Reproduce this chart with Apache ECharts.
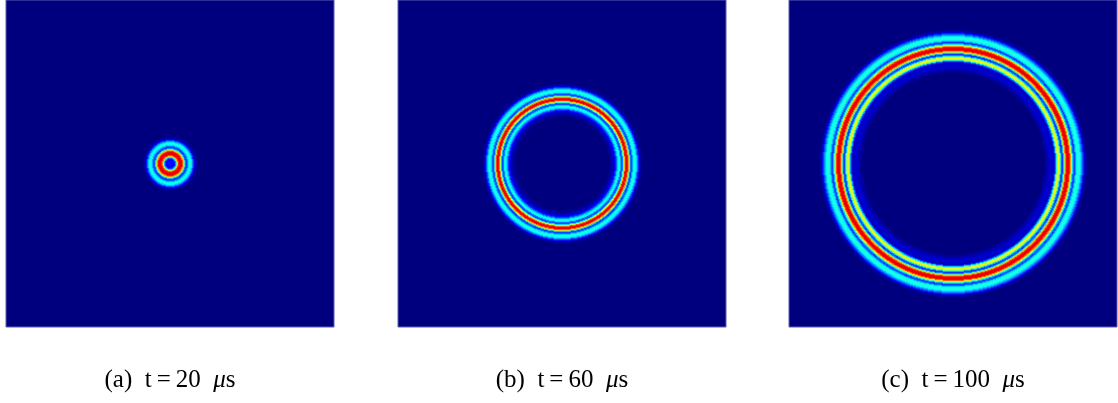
<!DOCTYPE html>
<html>
<head>
<meta charset="utf-8">
<style>
  html, body { margin: 0; padding: 0; background: #fff; }
  #chart { width: 1118px; height: 403px; }
</style>
<script src="https://cdn.jsdelivr.net/npm/echarts@6/dist/echarts.min.js"></script>
</head>
<body>
<div id="chart"></div>
<script>
// wave intensity along a radius, one value per pixel
const panelLabels = ['(a)', '(b)', '(c)']
const panelTimes = ['20', '60', '100']

const startA = 0
const profileA = [0.14, 0.14, 0.14, 0.13, 0.12, 0.2, 0.35, 0.6, 0.8, 0.88, 0.9, 0.9, 0.85, 0.7, 0.5,
  0.3, 0.17, 0.22, 0.33, 0.39, 0.4, 0.37, 0.3, 0.2, 0.12, 0.06, 0.03]

const startB = 48
const profileB = [0.02, 0.03, 0.05, 0.07, 0.1, 0.14, 0.2, 0.3, 0.37, 0.4, 0.35, 0.2, 0.2, 0.38,
  0.6, 0.82, 0.9, 0.9, 0.76, 0.55, 0.3, 0.17, 0.25, 0.36, 0.4, 0.4, 0.36, 0.28, 0.18, 0.1, 0.05, 0.02]

const startC = 92
const profileC = [0.02, 0.03, 0.05, 0.06, 0.07, 0.08, 0.08, 0.07, 0.06, 0.07, 0.18, 0.35, 0.52, 0.62,
  0.6, 0.45, 0.28, 0.15, 0.28, 0.5, 0.7, 0.85, 0.9, 0.9, 0.88, 0.76, 0.6, 0.4, 0.28, 0.16, 0.25, 0.35,
  0.4, 0.41, 0.4, 0.37, 0.3, 0.24, 0.17, 0.1, 0.05, 0.02]

const jet = ['#00007f', '#0000ff', '#007fff', '#00ffff', '#7fff7f', '#ffff00', '#ff7f00', '#ff0000', '#7f0000']

const nx = 328
const ny = 327
const cx = 164
const cy = 163
const lefts = [6, 398, 789]

function ringCells(start, profile) {
  let cells = []
  for (let i = 0; i < nx; i++) {
    for (let j = 0; j < ny; j++) {
      let r = Math.round(Math.hypot(i - cx, j - cy))
      let v = profile[r - start]
      if (v !== undefined && v > 0.015) cells.push([i, j, v])
    }
  }
  return cells
}

const xCats = Array.from({ length: nx }, (_, i) => i)
const yCats = Array.from({ length: ny }, (_, i) => i)
const profiles = [[startA, profileA], [startB, profileB], [startC, profileC]]

let chart = echarts.init(document.getElementById('chart'))
chart.setOption({
  animation: false,
  grid: lefts.map(l => ({
    left: l, top: 0, width: nx, height: ny, show: true,
    backgroundColor: '#00007f', borderColor: '#5c5cb4', borderWidth: 1
  })),
  xAxis: lefts.map((l, k) => ({ type: 'category', gridIndex: k, data: xCats, show: false })),
  yAxis: lefts.map((l, k) => ({ type: 'category', gridIndex: k, data: yCats, show: false })),
  visualMap: {
    type: 'continuous', show: false, min: 0, max: 1, dimension: 2,
    seriesIndex: [0, 1, 2], inRange: { color: jet }
  },
  series: profiles.map((p, k) => ({
    type: 'heatmap', xAxisIndex: k, yAxisIndex: k, progressive: 0,
    data: ringCells(p[0], p[1])
  })),
  graphic: lefts.map((l, k) => ({
    type: 'text', x: l + nx / 2, y: 380,
    style: {
      text: panelLabels[k] + '  t\u2009=\u2009' + panelTimes[k] + '  {mu|\u03bc}s',
      font: '25px "Liberation Serif", serif', fill: '#000',
      textAlign: 'center', textVerticalAlign: 'middle',
      rich: { mu: { fontStyle: 'italic', fontSize: 25, fontFamily: 'Liberation Serif' } }
    }
  }))
})
</script>
</body>
</html>
